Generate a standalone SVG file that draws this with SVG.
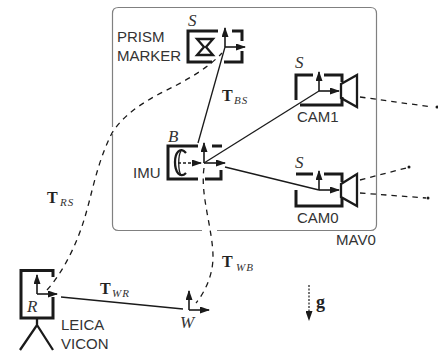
<svg xmlns="http://www.w3.org/2000/svg" width="438" height="354" viewBox="0 0 438 354">
<defs>
<marker id="a" markerUnits="userSpaceOnUse" markerWidth="10" markerHeight="7" refX="9" refY="3.500" orient="auto"><path d="M0 0L10 3.500L0 7Z" fill="#1a1a1a"/></marker>
</defs>
<style>
text{fill:#333}
.s{font-family:"Liberation Sans",Arial,sans-serif;font-size:15px}
.i{font-family:"Liberation Serif","Times New Roman",serif;font-style:italic;font-size:17px}
.t{font-family:"Liberation Serif","Times New Roman",serif;font-weight:bold;font-size:16px;fill:#222}
.b{font-family:"Liberation Serif","Times New Roman",serif;font-style:italic;font-size:11px;letter-spacing:1px}
.f{fill:none;stroke:#1a1a1a;stroke-width:3}
.h{fill:none;stroke:#1a1a1a;stroke-width:1.300}
.c{fill:none;stroke:#1a1a1a;stroke-width:2.300}
.ax{fill:none;stroke:#1a1a1a;stroke-width:1.600;marker-end:url(#a)}
.d{fill:none;stroke:#1a1a1a;stroke-width:1.300;stroke-dasharray:5.500 5}
</style>
<path id="mav0-box" d="M202 230.500H118.500Q112.500 230.500 112.500 224.500V134M112.500 127V13.500Q112.500 7.500 118.500 7.500H370.500Q376.500 7.500 376.500 13.500V224.500Q376.500 230.500 370.500 230.500H217" fill="none" stroke="#808080" stroke-width="1.200"/>
<g id="connectors">
<path class="d" d="M47 290C65 270 78 240 84 220C92 195 96 165 112 133C125 112 150 98 173 87C190 78 208 68 222 53"/>
<path class="h" d="M225 47L198 143"/>
<path class="h" d="M204 163L319 91"/>
<path class="h" d="M225 167L319 190"/>
<path class="h" d="M61 297L183 309"/>
<path class="d" d="M204 168C200 195 213 230 213 257C213 275 205 292 196 303"/>
<path class="d" d="M360 97L432 107"/>
<path class="d" d="M360 180L406 168"/>
<path class="d" d="M360 193L426 198"/>
<circle cx="437" cy="107" r="1.500" fill="#1a1a1a"/>
<circle cx="409" cy="167" r="1.500" fill="#1a1a1a"/>
<circle cx="428" cy="198" r="1.500" fill="#1a1a1a"/>
</g>
<g id="prism">
<path class="f" d="M218 31H188V62H212"/>
<path class="f" d="M232 31H242V41M242 51V62H224"/>
<path class="c" d="M197 39H213L206 47L213 55H197L204 47Z"/>
<path class="ax" d="M225 47V28"/>
<path class="ax" d="M225 47H245"/>
<text class="s" x="117" y="42">PRISM</text>
<text class="s" x="117" y="61">MARKER</text>
<text class="i" x="188" y="26">S</text>
</g>
<g id="imu">
<path class="f" d="M198 146H168V179H198"/>
<path class="f" d="M212 146H222M205 179H221V170"/>
<path class="c" d="M186 153C180 146 175 153 175 162C175 172 180 179 186 173"/>
<path class="h" d="M181 151C178 155 178 171 181 175"/>
<path class="ax" style="stroke-dasharray:3 2" d="M178 163H201"/>
<path class="ax" d="M204 163V143"/>
<path class="ax" d="M204 163H225"/>
<text class="s" x="133" y="178">IMU</text>
<text class="i" x="168" y="142">B</text>
</g>
<g id="cam1">
<path class="f" d="M296 100V75H313M324 75H342V82"/>
<path class="f" d="M300 105H342V97"/>
<path class="c" d="M341 84L357 75V107L341 98Z"/>
<path class="ax" d="M319 91V72"/>
<path class="ax" d="M319 91H339"/>
<text class="s" x="297" y="122">CAM1</text>
<text class="i" x="295" y="68">S</text>
</g>
<g id="cam0">
<path class="f" d="M296 174H313M324 174H342V182"/>
<path class="f" d="M296 190V206H342V198"/>
<path class="c" d="M341 184L357 174V206L341 197Z"/>
<path class="ax" d="M319 190V171"/>
<path class="ax" d="M319 190H339"/>
<text class="s" x="297" y="223">CAM0</text>
<text class="i" x="295" y="168">S</text>
</g>
<g id="leica">
<path class="f" d="M53 277V270.500H21V318H53V297"/>
<path class="c" d="M37 319V325M20 350L37 325L53 350"/>
<path class="ax" d="M37 294V275"/>
<path class="ax" d="M37 294H57"/>
<text class="s" x="61" y="330">LEICA</text>
<text class="s" x="61" y="349">VICON</text>
<text class="i" x="27" y="312">R</text>
</g>
<g id="world">
<path class="ax" d="M189 310V291"/>
<path class="ax" d="M189 310H209"/>
<text class="i" x="180" y="328">W</text>
</g>
<g id="gravity">
<path class="ax" style="stroke-dasharray:2 1.500;stroke-width:1.200" d="M309 285V320"/>
<text class="t" x="316" y="308" style="font-size:18px">g</text>
</g>
<g id="labels">
<text class="s" x="336" y="245">MAV0</text>
<text class="t" x="222" y="101">T</text><text class="b" x="234" y="104">BS</text>
<text class="t" x="47" y="203">T</text><text class="b" x="60" y="206">RS</text>
<text class="t" x="100" y="294">T</text><text class="b" x="112" y="297">WR</text>
<text class="t" x="222" y="267">T</text><text class="b" x="236" y="271">WB</text>
</g>
</svg>
